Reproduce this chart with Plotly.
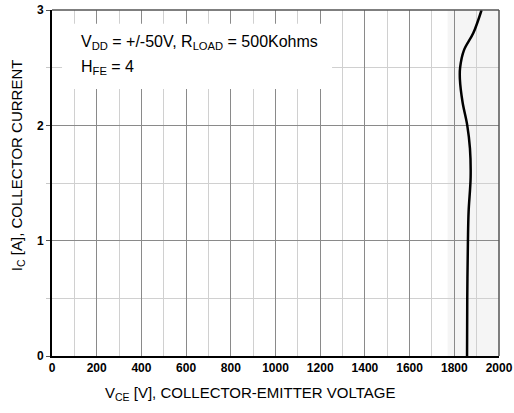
import plotly.graph_objects as go

# collector current (A) vs collector-emitter voltage (V)
ic_amps = [0, 0.5, 1.0, 1.25, 1.55, 1.8, 2.0, 2.2, 2.4, 2.5, 2.65, 2.8, 3.0]
vce_volts = [1857, 1858, 1861, 1864, 1873, 1870, 1858, 1837, 1825, 1826, 1843, 1885, 1922]

x_ticks = list(range(0, 2001, 200))
y_ticks = [0, 1, 2, 3]

FONT = 'Liberation Sans, Arial, sans-serif'

fig = go.Figure()

fig.add_trace(go.Scatter(
    x=vce_volts, y=ic_amps, mode='lines',
    line=dict(color='black', width=2.5, shape='spline', smoothing=1.0),
    showlegend=False, hoverinfo='skip'
))

# light watermark band on the right
fig.add_shape(type='rect', xref='paper', yref='paper', x0=0.885, x1=1.0, y0=0, y1=1,
              fillcolor='#f5f5f5', line_width=0, layer='below')

# white box behind the condition text
fig.add_shape(type='rect', xref='x', yref='y', x0=45, x1=1253, y0=2.316, y1=2.88,
              fillcolor='white', line_width=0, layer='above')

fig.add_annotation(x=0.06, y=0.905, xref='paper', yref='paper', xanchor='left', yanchor='middle',
                   text='V<sub>DD</sub> = +/-50V, R<sub>LOAD</sub> = 500Kohms',
                   showarrow=False, font=dict(size=16, color='black', family=FONT))
fig.add_annotation(x=0.06, y=0.835, xref='paper', yref='paper', xanchor='left', yanchor='middle',
                   text='H<sub>FE</sub> = 4',
                   showarrow=False, font=dict(size=16, color='black', family=FONT))

fig.add_annotation(x=0.445, y=-0.107, xref='paper', yref='paper', xanchor='center', yanchor='middle',
                   text='V<sub>CE</sub> [V], COLLECTOR-EMITTER VOLTAGE',
                   showarrow=False, font=dict(size=15, color='black', family=FONT))
fig.add_annotation(x=-0.078, y=0.552, xref='paper', yref='paper', xanchor='center', yanchor='middle',
                   text='I<sub>C</sub> [A], COLLECTOR CURRENT', textangle=-90,
                   showarrow=False, font=dict(size=15, color='black', family=FONT))

fig.update_xaxes(
    range=[0, 2000], tickvals=x_ticks, showgrid=True, gridcolor='#8a8a8a', gridwidth=1,
    minor=dict(dtick=100, tick0=0, showgrid=True, gridcolor='#d0d0d0', gridwidth=1),
    showline=True, linecolor='black', linewidth=2, mirror=False,
    ticks='', tickfont=dict(size=12, family=FONT, color='black', weight='bold'),
    ticklabeloverflow='allow', automargin=False, zeroline=False
)
fig.update_yaxes(
    range=[0, 3], tickvals=y_ticks, showgrid=True, gridcolor='#8a8a8a', gridwidth=1,
    minor=dict(dtick=0.5, tick0=0, showgrid=True, gridcolor='#d0d0d0', gridwidth=1,
               ticks='outside', ticklen=4, tickcolor='#c8c8c8'),
    showline=True, linecolor='black', linewidth=2,
    ticks='outside', ticklen=4, tickcolor='#555555',
    tickfont=dict(size=12, family=FONT, color='black', weight='bold'),
    ticklabeloverflow='allow', automargin=False, zeroline=False
)

# top and right frame
fig.add_shape(type='line', xref='paper', yref='paper', x0=0, x1=1, y0=1, y1=1,
              line=dict(color='#555555', width=1.5))
fig.add_shape(type='line', xref='paper', yref='paper', x0=1, x1=1, y0=0, y1=1,
              line=dict(color='#555555', width=1.5))

fig.update_layout(
    width=514, height=413,
    margin=dict(l=52, r=15, t=10, b=57, autoexpand=False),
    paper_bgcolor='white', plot_bgcolor='rgba(0,0,0,0)',
    font=dict(family=FONT, color='black')
)

# drop the default page margin so the figure sits at the window corner
fig.write_html("out.html", config={'displayModeBar': False},
               post_script="document.body.style.margin='0';")
